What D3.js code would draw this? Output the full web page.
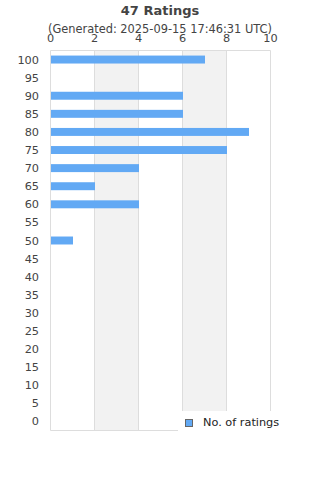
<!DOCTYPE html>
<html>
<head>
<meta charset="utf-8">
<script src="https://cdn.jsdelivr.net/npm/d3@7"></script>
<style>
  body { margin: 0; background: #fff; }
  svg { display: block; font-family: "DejaVu Sans", sans-serif; }
</style>
</head>
<body>
<svg id="chart" width="320" height="480"></svg>
<script>
// Data //
const ratings = [100, 95, 90, 85, 80, 75, 70, 65, 60, 55, 50, 45, 40, 35, 30, 25, 20, 15, 10, 5, 0]
const counts  = [7, 0, 6, 6, 9, 8, 4, 2, 4, 0, 1, 0, 0, 0, 0, 0, 0, 0, 0, 0, 0]
const xTicks = [0, 2, 4, 6, 8, 10]
const title = "47 Ratings"
const subtitle = "(Generated: 2025-09-15 17:46:31 UTC)"
const seriesName = "No. of ratings"

const svg = d3.select("#chart")
const plotLeft = 50.5, plotRight = 270.5, plotTop = 50.5, plotBottom = 430.5
const barColor = "#62a9f4"

const x = d3.scaleLinear().domain([0, 10]).range([plotLeft, plotRight])
const y = d3.scaleBand()
    .domain(ratings)
    .range([plotTop, plotBottom])
    .paddingInner(0.56)
    .paddingOuter(0.28)

// alternating bands
for (let i = 0; i < xTicks.length - 1; i++) {
    if (i % 2 == 1) {
        svg.append("rect")
            .attr("x", x(xTicks[i]))
            .attr("y", plotTop)
            .attr("width", x(xTicks[i + 1]) - x(xTicks[i]))
            .attr("height", plotBottom - plotTop)
            .attr("fill", "#f2f2f2")
    }
}

// grid lines
svg.selectAll(".grid")
    .data(xTicks)
    .enter()
    .append("line")
    .attr("x1", d => x(d)).attr("x2", d => x(d))
    .attr("y1", plotTop).attr("y2", plotBottom)
    .attr("stroke", "#dddddd")
    .attr("stroke-width", 1)

svg.append("line")
    .attr("x1", plotLeft).attr("x2", plotRight)
    .attr("y1", plotTop).attr("y2", plotTop)
    .attr("stroke", "#dddddd")
svg.append("line")
    .attr("x1", plotLeft).attr("x2", plotRight)
    .attr("y1", plotBottom).attr("y2", plotBottom)
    .attr("stroke", "#dddddd")

// bars
svg.selectAll(".bar")
    .data(ratings.map((r, i) => ({ r: r, c: counts[i] })))
    .enter()
    .append("rect")
    .attr("x", x(0) + 0.5)
    .attr("y", d => y(d.r))
    .attr("width", d => Math.max(0, x(d.c) - x(0)))
    .attr("height", y.bandwidth())
    .attr("fill", barColor)

// y labels
svg.selectAll(".ylab")
    .data(ratings)
    .enter()
    .append("text")
    .attr("x", 39)
    .attr("y", d => y(d) + y.bandwidth() / 2 + 4)
    .attr("text-anchor", "end")
    .attr("font-size", 11.3)
    .attr("fill", "#444")
    .text(d => d)

// x labels (top)
svg.selectAll(".xlab")
    .data(xTicks)
    .enter()
    .append("text")
    .attr("x", d => x(d))
    .attr("y", 42)
    .attr("text-anchor", "middle")
    .attr("font-size", 11.3)
    .attr("fill", "#444")
    .text(d => d)

// titles
svg.append("text")
    .attr("x", 160).attr("y", 15)
    .attr("text-anchor", "middle")
    .attr("font-size", 13)
    .attr("font-weight", "bold")
    .attr("fill", "#444")
    .text(title)

svg.append("text")
    .attr("x", 160).attr("y", 33)
    .attr("text-anchor", "middle")
    .attr("font-size", 11.4)
    .attr("fill", "#444")
    .text(subtitle)

// legend
const legend = svg.append("g")
legend.append("rect")
    .attr("x", 178).attr("y", 411)
    .attr("width", 112).attr("height", 21)
    .attr("fill", "#fff")
legend.append("rect")
    .attr("x", 185.5).attr("y", 419.5)
    .attr("width", 7).attr("height", 7)
    .attr("fill", barColor)
    .attr("stroke", "#666")
legend.append("text")
    .attr("x", 203).attr("y", 426)
    .attr("font-size", 11.3)
    .attr("fill", "#222")
    .text(seriesName)
</script>
</body>
</html>
